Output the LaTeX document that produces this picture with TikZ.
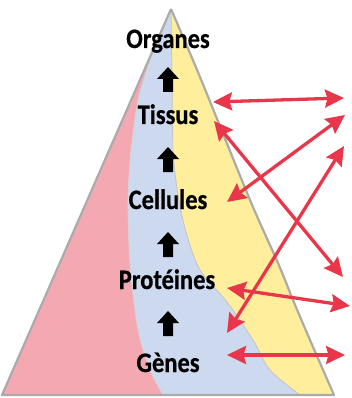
\documentclass[tikz,border=0pt]{standalone}
\usepackage{fontspec}
\usepackage{graphicx}
\setmainfont{Carlito}
\usetikzlibrary{arrows.meta}
\definecolor{pyrred}{HTML}{F4A9B2}
\definecolor{pyrblue}{HTML}{CDD9EE}
\definecolor{pyryellow}{HTML}{FFEE9C}
\definecolor{pyrgray}{HTML}{ABABAB}
\definecolor{arrred}{HTML}{E8364A}
\tikzset{
  lvl/.style={anchor=base, inner sep=0pt, font=\fontsize{24.5}{24}\selectfont\bfseries\addfontfeature{FakeBold=0.6}},
  link/.style={draw=arrred, line width=3.3pt, {Stealth[length=19pt,width=18pt,inset=2.5pt]}-{Stealth[length=19pt,width=18pt,inset=2.5pt]}},
  uparrow/.pic={\fill[black] (0,0) -- (-11,12) -- (-5,12) -- (-5,25) -- (5,25) -- (5,12) -- (11,12) -- cycle;}
}
\begin{document}
\begin{tikzpicture}[x=1pt,y=-1pt]
\useasboundingbox (0,0) rectangle (351,398);
% pyramid base (yellow)
\fill[pyryellow] (171,9) -- (2,395) -- (334,395)
  -- plot[smooth] coordinates {(334,395) (310,340) (293,300) (278,263) (250,200) (200,77) (171,9)} -- cycle;
% blue part
\fill[pyrblue] (171,9) -- (2,395) -- (300,395)
  -- plot[smooth] coordinates {(300,395) (270,370) (253,340) (227,302) (200,270) (186,232) (178,195) (173,150) (172,80) (171,9)} -- cycle;
% red part
\fill[pyrred] (171,9) -- (2,395) -- (163,395)
  -- plot[smooth] coordinates {(163,395) (150,370) (138,330) (130,265) (128,200) (131,150) (138,100) (150,60) (163,28) (171,9)} -- cycle;
% inner boundaries
\draw[pyrgray!70, line width=0.8pt] plot[smooth] coordinates {(300,395) (270,370) (253,340) (227,302) (200,270) (186,232) (178,195) (173,150) (172,80) (171,9)};
\draw[pyrgray!50, line width=0.6pt] plot[smooth] coordinates {(163,395) (150,370) (138,330) (130,265) (128,200) (131,150) (138,100) (150,60) (163,28) (171,9)};
% outline
\draw[pyrgray, line width=2.2pt, line join=round] (171,9) -- (2,395) -- (334,395)
  -- plot[smooth] coordinates {(334,395) (310,340) (293,300) (278,263) (250,200) (200,77) (171,9)};
% labels
\node[lvl] (organes) at (168,48) {\scalebox{1}[1.15]{Organes}};
\node[lvl] (tissus) at (168,124) {\scalebox{1}[1.15]{Tissus}};
\node[lvl] (cellules) at (168,209) {\scalebox{1}[1.15]{Cellules}};
\node[lvl] (proteines) at (167,289) {\scalebox{1}[1.15]{Protéines}};
\node[lvl] (genes) at (168,372) {\scalebox{1}[1.15]{Gènes}};
% black arrows
\pic at (168,67) {uparrow};
\pic at (168,147) {uparrow};
\pic at (168,232) {uparrow};
\pic at (168,311) {uparrow};
% red arrow end points
\coordinate (a1L) at (213,102); \coordinate (a1R) at (344,98);
\coordinate (a2L) at (214,121); \coordinate (a2R) at (343,277);
\coordinate (a3L) at (227,202); \coordinate (a3R) at (345,115);
\coordinate (a4L) at (227,333); \coordinate (a4R) at (344,146);
\coordinate (a5L) at (227,288); \coordinate (a5R) at (350,306);
\coordinate (a6L) at (227,355); \coordinate (a6R) at (345,355);
\draw[link] (a1L) -- (a1R);
\draw[link] (a2L) -- (a2R);
\draw[link] (a3L) -- (a3R);
\draw[link] (a4L) -- (a4R);
\draw[link] (a5L) -- (a5R);
\draw[link] (a6L) -- (a6R);
\end{tikzpicture}
\end{document}
